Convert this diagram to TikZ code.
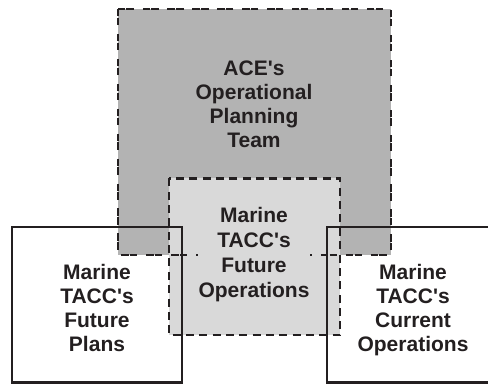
\documentclass[tikz,border=0pt]{standalone}
\usepackage{fontspec}
\setmainfont{Liberation Sans}
\usepackage{xcolor}
\usepackage{tikz}

\definecolor{teamgray}{RGB}{179,179,179}
\definecolor{futgray}{RGB}{217,217,217}
\definecolor{inkdark}{RGB}{35,31,32}

\newcommand{\apos}{\textquotesingle}

\tikzset{
  teamline/.style={draw=inkdark, line width=2.2pt, dash pattern={on 5.5pt off 1.1pt on 5.5pt off 6.6pt}},
  futline/.style={draw=inkdark, line width=2.2pt, dash pattern={on 6pt off 4pt}},
  taccline/.style={draw=inkdark, line width=2.2pt},
  boxtext/.style={align=center, inner sep=0.75pt, text=inkdark, font=\bfseries\fontsize{15.75}{18}\selectfont},
}

\begin{document}
\begin{tikzpicture}[x=0.75pt,y=0.75pt,yscale=-1,xscale=1]
\useasboundingbox (0,0) rectangle (488,384);
\clip (0,0) rectangle (488,384);

%Rectangle fills
\fill [teamgray] (118,9) rectangle (391,255);
\fill [futgray] (169,178.5) rectangle (340,335);
%Dashed Rectangles
\draw [teamline] (118,9) rectangle (391,255);
\draw [futline] (169,178.5) rectangle (340,335);
%Rectangles
\draw [taccline] (12,227) rectangle (182,382.5);
\draw [taccline] (327,227) rectangle (500,382.5);

% Text Node
\node (ace) at (254,104.4) [boxtext] {ACE\apos s\\Operational\\Planning\\Team};
% Text Node
\node (futops) at (254,254.5) [boxtext, fill=futgray, font=\bfseries\fontsize{15.75}{18.75}\selectfont] {Marine\\TACC\apos s\\Future\\Operations};
% Text Node
\node (futplans) at (97,308.3) [boxtext] {Marine\\TACC\apos s\\Future\\Plans};
% Text Node
\node (curops) at (413,310.2) [boxtext] {Marine\\TACC\apos s\\Current\\Operations};

\end{tikzpicture}
\end{document}
